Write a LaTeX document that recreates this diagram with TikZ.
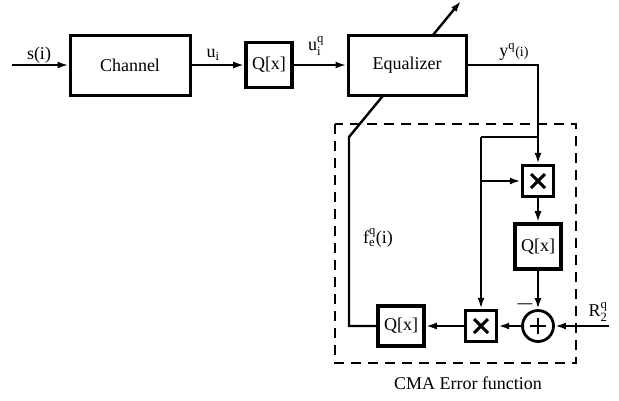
\documentclass[tikz,border=0pt]{standalone}
\usepackage{fontspec}
\usepackage{amsmath}
\setmainfont{Liberation Serif}
\usetikzlibrary{arrows.meta,backgrounds}
\begin{document}
\begin{tikzpicture}[x=1pt,y=-1pt,
  blk/.style={draw,line width=3pt,fill=white,inner sep=0pt,font=\fontsize{18}{21}\selectfont},
  qblk/.style={blk,line width=3.6pt,minimum width=46pt},
  con/.style={line width=2.4pt},
  arr/.style={con,-{Latex[length=11pt,width=7pt]}},
  lbl/.style={font=\fontsize{18}{21}\selectfont,inner sep=0pt},
  mul/.style={draw,line width=3.4pt,fill=white,minimum width=31pt,minimum height=31pt,
    path picture={\draw[line width=3pt]
      ([xshift=-7pt,yshift=-7pt]path picture bounding box.center) -- ([xshift=7pt,yshift=7pt]path picture bounding box.center)
      ([xshift=-7pt,yshift=7pt]path picture bounding box.center) -- ([xshift=7pt,yshift=-7pt]path picture bounding box.center);}},
  addc/.style={draw,circle,line width=2.8pt,fill=white,minimum size=31pt,inner sep=0pt,
    path picture={\draw[line width=1.8pt]
      ([xshift=-8pt]path picture bounding box.center) -- ([xshift=8pt]path picture bounding box.center)
      ([yshift=-8pt]path picture bounding box.center) -- ([yshift=8pt]path picture bounding box.center);}},
  dbox/.style={line width=1.8pt,dash pattern=on 10pt off 7pt}
]
\useasboundingbox (0,0) rectangle (619,400);

% coordinates
\coordinate (in) at (12,65);
\coordinate (yc) at (538,65);
\coordinate (br) at (538,137);
\coordinate (bl) at (481,137);
\coordinate (bm) at (481,181);
\coordinate (rin) at (609,326);
\coordinate (fc) at (349,326);
\coordinate (fk) at (349,137);
\coordinate (tip) at (461,1);

% blocks
\node[blk,minimum width=120pt,minimum height=60pt] (ch) at (130,65) {Channel};
\node[qblk,minimum height=45pt] (q1) at (269,65) {Q[x]};
\node[blk,minimum width=118pt,minimum height=60pt] (eq) at (407,65) {Equalizer};
\node[mul] (m1) at (538,181) {};
\node[qblk,minimum height=45pt] (q2) at (538,246.5) {Q[x]};
\node[addc] (sum) at (538,326) {};
\node[mul] (m2) at (481,326) {};
\node[qblk,minimum height=40pt] (q3) at (401,326) {Q[x]};

\begin{scope}[on background layer]
  \draw[dbox] (335,124) rectangle (576,363);
  \draw[arr] (q3.west) -- (fc) -- (fk) -- (tip);
\end{scope}

% connectors
\draw[arr] (in) -- (ch.west);
\draw[arr] (ch.east) -- (q1.west);
\draw[arr] (q1.east) -- (eq.west);
\draw[con] (eq.east) -- (yc) -- (br);
\draw[arr] (br) -- (m1.north);
\draw[con] (br) -- (bl);
\draw[arr] (bl) -- (m2.north);
\draw[arr] (bm) -- (m1.west);
\draw[arr] (m1.south) -- (q2.north);
\draw[arr] (q2.south) -- (sum.north);
\draw[arr] (rin) -- (sum.east);
\draw[arr] (sum.west) -- (m2.east);
\draw[arr] (m2.west) -- (q3.east);

% labels
\node[lbl] (ls) at (39,55) {s(i)};
\node[lbl] (lu) at (213,55) {u$_{\text{i}}$};
\node[lbl] (luq) at (316,46) {u$^{\text{q}}_{\text{i}}$};
\node[lbl] (ly) at (514,52) {y$^{\text{q}}${\fontsize{14}{14}\selectfont(i)}};
\node[lbl] (lf) at (378,238) {f$^{\text{q}}_{\text{e}}$(i)};
\node[lbl,font=\fontsize{24}{24}\selectfont] (lm) at (525,304) {$-$};
\node[lbl] (lr) at (598,312) {R$^{\text{q}}_{\text{2}}$};
\node[lbl] (lc) at (468,383) {CMA Error function};
\end{tikzpicture}
\end{document}
